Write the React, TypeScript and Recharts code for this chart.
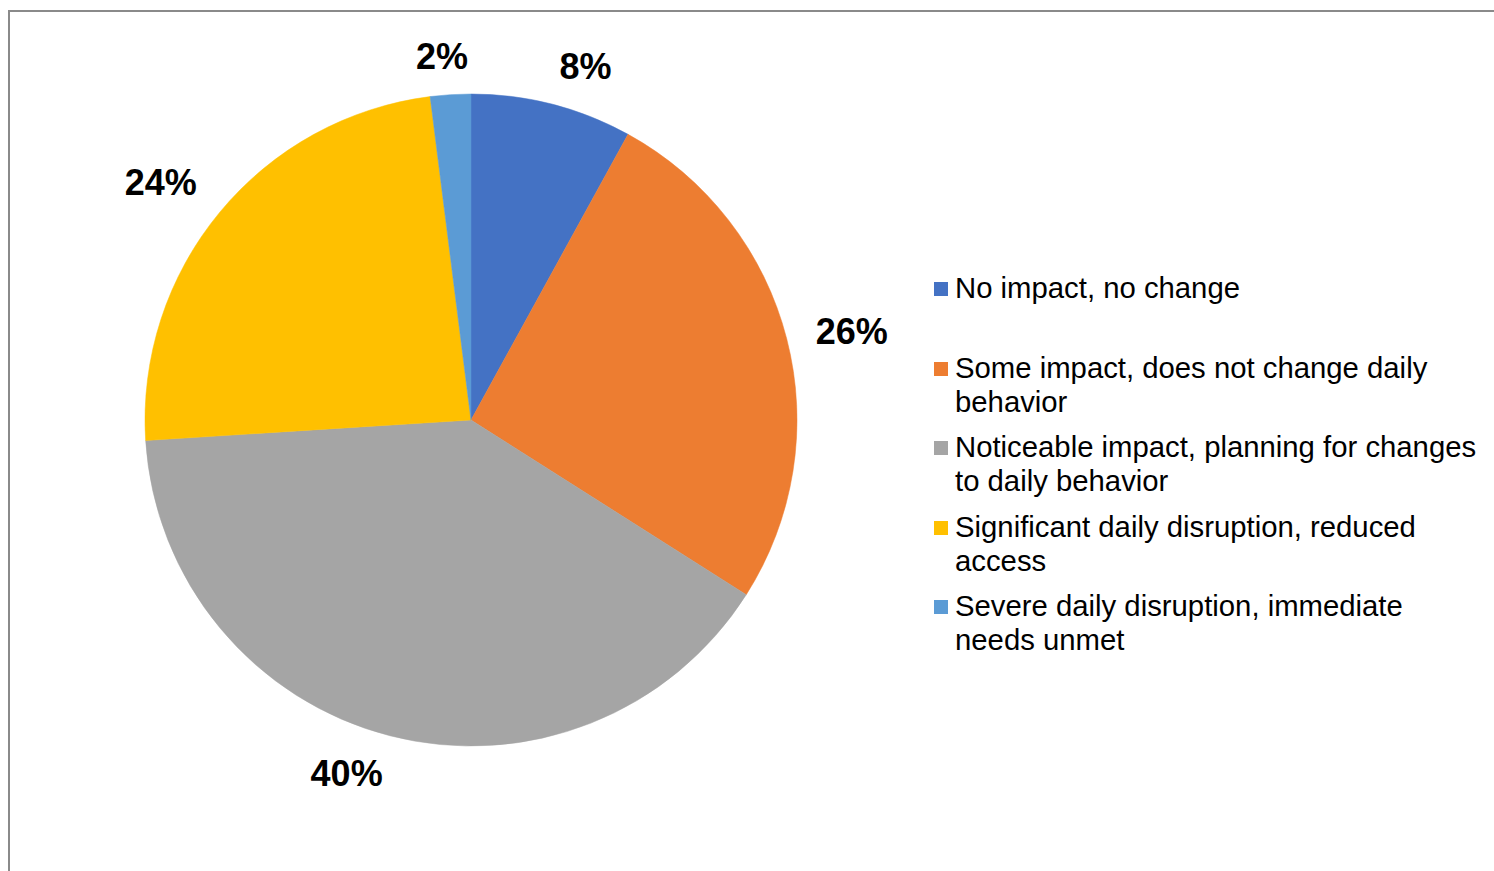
import React from "react";
import { PieChart, Pie, Cell, Legend } from "recharts";

const categories = [
  "No impact, no change",
  "Some impact, does not change daily\nbehavior",
  "Noticeable impact, planning for changes\nto daily behavior",
  "Significant daily disruption, reduced\naccess",
  "Severe daily disruption, immediate\nneeds unmet",
];
const values = [8, 26, 40, 24, 2];
const colors = ["#4472C4", "#ED7D31", "#A5A5A5", "#FFC000", "#5B9BD5"];

const data = categories.map((name, i) => ({ name: name.replace("\n", " "), value: values[i] }));

const FONT = "'Liberation Sans', Arial, Helvetica, sans-serif";
const RADIAN = Math.PI / 180;
const LABEL_SIZE = 36;

const clamp = (v: number, lo: number, hi: number) => Math.max(lo, Math.min(hi, v));

const renderLabel = (props: any) => {
  const { cx, cy, midAngle, outerRadius, value } = props;
  const text = `${value}%`;
  const cos = Math.cos(-midAngle * RADIAN);
  const sin = Math.sin(-midAngle * RADIAN); // screen coords (down positive)
  const w = (String(value).length * 0.556 + 0.889) * LABEL_SIZE;
  const halfH = 16;
  const gap = 22;
  const ax = cx + outerRadius * cos;
  const ay = cy + outerRadius * sin;
  const hx = Math.sign(cos) * (clamp(Math.abs(cos) * 4, 0, 1) * (w / 2) + 8 * Math.abs(cos));
  const vy = Math.sign(sin) * clamp((Math.abs(sin) - 0.2) * 2.5, 0, 1) * halfH;
  const x = ax + gap * cos + hx;
  const y = ay + gap * sin + vy;
  return (
    <text
      x={x}
      y={y}
      textAnchor="middle"
      dominantBaseline="central"
      fontFamily={FONT}
      fontSize={LABEL_SIZE}
      fontWeight="bold"
      fill="#000"
    >
      {text}
    </text>
  );
};

const renderLegend = () => (
  <div style={{ fontFamily: FONT, fontSize: 29.3, lineHeight: "34px", color: "#000" }}>
    {categories.map((c, i) => (
      <div key={c} style={{ display: "flex", alignItems: "flex-start", height: 79.5 }}>
        <div
          style={{
            width: 14,
            height: 14,
            background: colors[i],
            marginTop: 11,
            marginRight: 7,
            flex: "0 0 auto",
          }}
        />
        <div style={{ whiteSpace: "pre", }}>{c}</div>
      </div>
    ))}
  </div>
);

export default function App() {
  return (
    <div style={{ position: "absolute", left: 0, top: 0, width: 1494, height: 871, background: "#fff", overflow: "hidden" }}>
      <div
        style={{
          position: "absolute",
          left: 8,
          top: 10,
          width: 1500,
          height: 900,
          borderLeft: "2px solid #8a8a8a",
          borderTop: "2px solid #8a8a8a",
          boxSizing: "border-box",
        }}
      />
      <div style={{ position: "absolute", left: 0, top: 0 }}>
        <PieChart width={1494} height={871} margin={{ top: 0, right: 0, bottom: 0, left: 0 }}>
          <Pie
            data={data}
            dataKey="value"
            nameKey="name"
            cx={471}
            cy={420}
            outerRadius={326}
            startAngle={90}
            endAngle={-270}
            stroke="none"
            label={renderLabel}
            labelLine={false}
            isAnimationActive={false}
          >
            {data.map((d, i) => (
              <Cell key={d.name} fill={colors[i]} stroke={colors[i]} strokeWidth={0.5} />
            ))}
          </Pie>
          <Legend
            content={renderLegend}
            wrapperStyle={{ position: "absolute", left: 934, top: 271, width: 560 }}
          />
        </PieChart>
      </div>
    </div>
  );
}
